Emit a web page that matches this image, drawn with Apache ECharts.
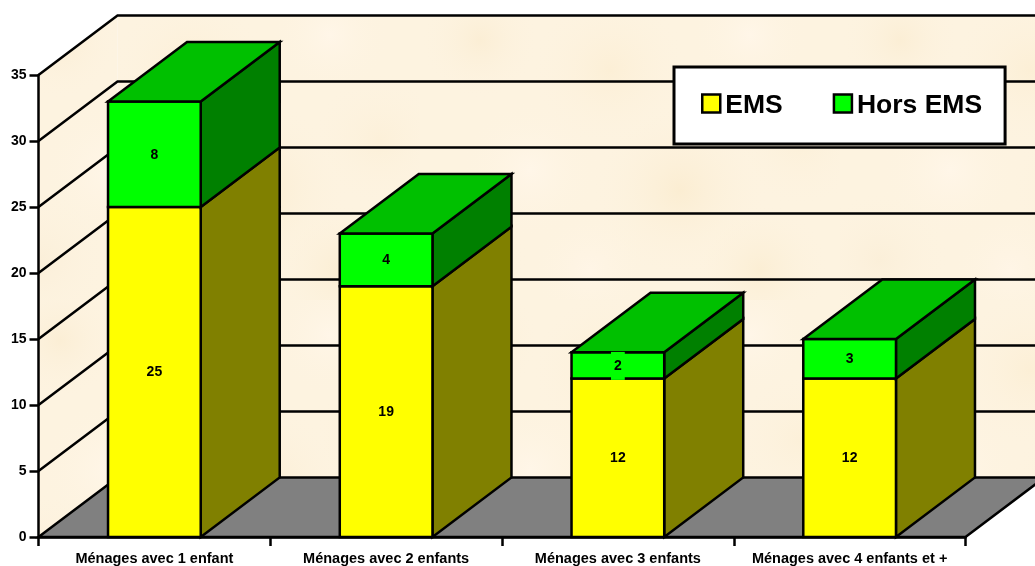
<!DOCTYPE html>
<html>
<head>
<meta charset="utf-8">
<title>Ménages par nombre d'enfants</title>
<style>html,body{margin:0;padding:0;background:#fff}#chart{width:1035px;height:566px}</style>
<script src="https://cdn.jsdelivr.net/npm/echarts@6/dist/echarts.min.js"></script>
</head>
<body>
<div id="chart"></div>
<script>
// Chart data
const categories = ['Ménages avec 1 enfant', 'Ménages avec 2 enfants', 'Ménages avec 3 enfants', 'Ménages avec 4 enfants et +'];
const ems = [25, 19, 12, 12];
const horsEms = [8, 4, 2, 3];
const wallTicks = [0, 5, 10, 15, 20, 25, 30, 35];

// Oblique projection of the depth axis, in pixels
const DEPTH_X = 79;
const DEPTH_Y = -59.5;
const BAR_RATIO = 0.4;
const FONT = '"Liberation Sans", Arial, sans-serif';
const LINE = 2.5;
const EDGE = { stroke: '#000', lineWidth: LINE, lineJoin: 'miter' };

// Parchment fill for the walls: a warm base with a few soft blotches
function parchment() {
  const c = document.createElement('canvas');
  c.width = 420; c.height = 300;
  const g = c.getContext('2d');
  g.fillStyle = '#fdf3e0';
  g.fillRect(0, 0, 420, 300);
  const blotches = [
    [60, 40, 60, '#fbeed5'], [190, 70, 80, '#fcefd6'], [330, 35, 60, '#fff6e8'],
    [110, 170, 70, '#fff6e8'], [260, 190, 90, '#fbedd2'], [380, 140, 70, '#fcf0d9'],
    [40, 260, 70, '#fbefd9'], [170, 270, 60, '#fff5e6'], [340, 270, 70, '#fbeed4']
  ];
  blotches.forEach(([x, y, r, col]) => {
    const rg = g.createRadialGradient(x, y, 0, x, y, r);
    rg.addColorStop(0, col);
    rg.addColorStop(1, 'rgba(253,243,224,0)');
    g.fillStyle = rg;
    g.fillRect(x - r, y - r, r * 2, r * 2);
  });
  return c;
}
const wallFill = { image: parchment(), repeat: 'repeat' };

function poly(points, fill) {
  return { type: 'polygon', shape: { points }, style: Object.assign({ fill }, EDGE) };
}
function polyline(points) {
  return { type: 'polyline', shape: { points }, style: Object.assign({ fill: 'none' }, EDGE) };
}

// Walls and floor come first; each wall tick adds its gridline around the corner
function renderWalls(params, api) {
  const tick = api.value(1);
  const band = api.size([1, 0])[0];
  const p = api.coord([0, tick]);
  const left = p[0] - band / 2;
  const y = p[1];
  const right = api.coord([categories.length - 1, tick])[0] + band / 2 + DEPTH_X;
  const children = [];
  if (params.dataIndex === 0) {
    const top = api.coord([0, wallTicks[wallTicks.length - 1]])[1];
    const fillOnly = (points, fill) => ({ type: 'polygon', shape: { points }, style: { fill } });
    children.push(fillOnly([[left, y], [left, top], [left + DEPTH_X, top + DEPTH_Y], [left + DEPTH_X, y + DEPTH_Y]], wallFill));
    children.push(fillOnly([[left + DEPTH_X, top + DEPTH_Y], [right, top + DEPTH_Y], [right, y + DEPTH_Y], [left + DEPTH_X, y + DEPTH_Y]], wallFill));
    children.push(poly([[left, y], [left + DEPTH_X, y + DEPTH_Y], [right, y + DEPTH_Y], [right - DEPTH_X, y]], '#808080'));
  } else {
    children.push(polyline([[left, y], [left + DEPTH_X, y + DEPTH_Y], [right, y + DEPTH_Y]]));
  }
  return { type: 'group', children };
}

// One stacked block: front face, side face, an optional top face and a centred value
function blockRenderer(colors, withTop) {
  return function (params, api) {
    const idx = api.value(0);
    const base = api.value(1);
    const value = api.value(2);
    const w = api.size([1, 0])[0] * BAR_RATIO;
    const bottom = api.coord([idx, base]);
    const top = api.coord([idx, base + value]);
    const x0 = bottom[0] - w / 2;
    const x1 = bottom[0] + w / 2;
    const yb = bottom[1];
    const yt = top[1];
    const children = [
      poly([[x1, yb], [x1 + DEPTH_X, yb + DEPTH_Y], [x1 + DEPTH_X, yt + DEPTH_Y], [x1, yt]], colors.side),
      poly([[x0, yb], [x1, yb], [x1, yt], [x0, yt]], colors.front)
    ];
    if (withTop) {
      children.push(poly([[x0, yt], [x1, yt], [x1 + DEPTH_X, yt + DEPTH_Y], [x0 + DEPTH_X, yt + DEPTH_Y]], colors.top));
    }
    children.push({
      type: 'text',
      z2: 10,
      style: {
        text: String(value),
        x: bottom[0],
        y: (yb + yt) / 2 + 0.5,
        align: 'center',
        verticalAlign: 'middle',
        font: 'bold 14px ' + FONT,
        fill: '#000',
        backgroundColor: colors.front,
        padding: [7, 3, 7, 3]
      }
    });
    return { type: 'group', children };
  };
}

const chart = echarts.init(document.getElementById('chart'), null, { renderer: 'canvas' });
chart.setOption({
  animation: false,
  backgroundColor: '#fff',
  grid: { left: 38.5, right: 69.5, top: 75, bottom: 27, containLabel: false },
  legend: {
    left: 674,
    top: 67,
    padding: [25, 23, 25, 27],
    backgroundColor: '#fff',
    borderColor: '#000',
    borderWidth: 3,
    itemWidth: 18,
    itemHeight: 18,
    itemGap: 50,
    selectedMode: false,
    formatter: '{t|{name}}',
    textStyle: {
      fontFamily: FONT, fontWeight: 'bold', fontSize: 26.5, color: '#000',
      rich: { t: { fontFamily: FONT, fontWeight: 'bold', fontSize: 26.5, color: '#000', padding: [4, 0, 0, 0] } }
    },
    data: [
      { name: 'EMS', icon: 'rect', itemStyle: { color: '#ffff00', borderColor: '#000', borderWidth: 2.5 } },
      { name: 'Hors EMS', icon: 'rect', itemStyle: { color: '#00ff00', borderColor: '#000', borderWidth: 2.5 } }
    ]
  },
  xAxis: {
    type: 'category',
    z: 6,
    data: categories,
    boundaryGap: true,
    axisLine: { show: true, lineStyle: { color: '#000', width: LINE } },
    axisTick: { show: true, length: 9, lineStyle: { color: '#000', width: LINE } },
    axisLabel: { color: '#000', fontFamily: FONT, fontWeight: 'bold', fontSize: 14.5, margin: 14, interval: 0 }
  },
  yAxis: {
    type: 'value',
    z: 6,
    min: 0,
    max: 35,
    interval: 5,
    splitLine: { show: false },
    axisLine: { show: true, lineStyle: { color: '#000', width: LINE } },
    axisTick: { show: true, length: 9, lineStyle: { color: '#000', width: LINE } },
    axisLabel: { color: '#000', fontFamily: FONT, fontWeight: 'bold', fontSize: 14, margin: 12 }
  },
  series: [
    {
      type: 'custom',
      name: 'walls',
      z: 1,
      silent: true,
      clip: false,
      renderItem: renderWalls,
      encode: { x: 0, y: 1 },
      data: wallTicks.map(t => [0, t])
    },
    {
      type: 'custom',
      name: 'EMS',
      z: 3,
      clip: false,
      itemStyle: { color: '#ffff00' },
      renderItem: blockRenderer({ front: '#ffff00', side: '#808000' }, false),
      encode: { x: 0, y: 2 },
      data: ems.map((v, i) => [i, 0, v])
    },
    {
      type: 'custom',
      name: 'Hors EMS',
      z: 4,
      clip: false,
      itemStyle: { color: '#00ff00' },
      renderItem: blockRenderer({ front: '#00ff00', side: '#008000', top: '#00c000' }, true),
      encode: { x: 0, y: 2 },
      data: horsEms.map((v, i) => [i, ems[i], v])
    }
  ]
});
</script>
</body>
</html>
